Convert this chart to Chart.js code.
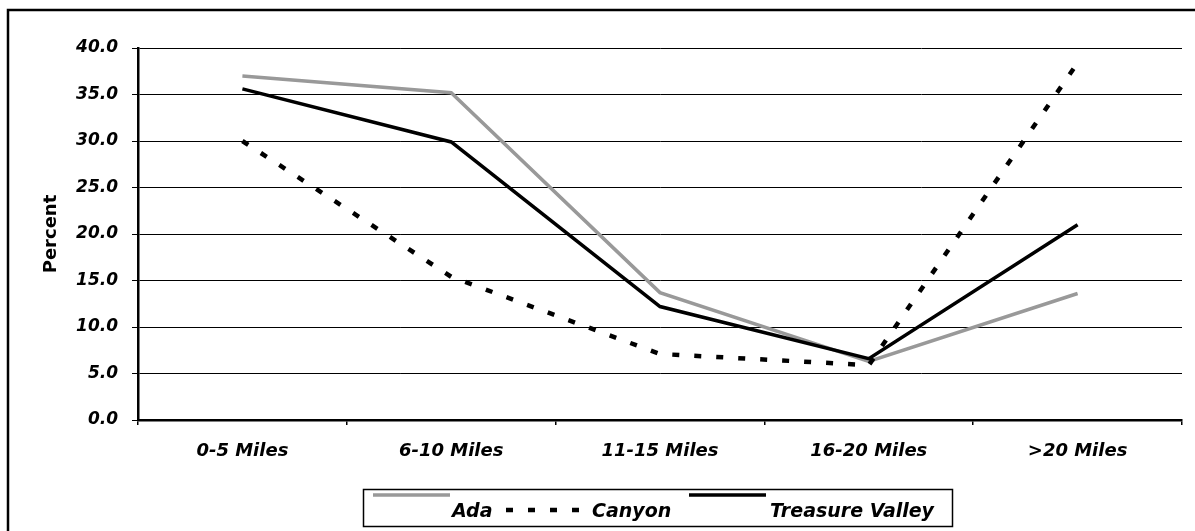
<!DOCTYPE html>
<html>
<head>
<meta charset="utf-8">
<script src="https://cdn.jsdelivr.net/npm/chart.js@4"></script>
<style>
  body { margin: 0; background: #fff; }
  canvas { display: block; }
</style>
</head>
<body>
<canvas id="commute-chart" width="1195" height="531"></canvas>
<script>
var categories = ['0-5 Miles', '6-10 Miles', '11-15 Miles', '16-20 Miles', '>20 Miles'];
var adaValues = [37.0, 35.2, 13.7, 6.3, 13.6];
var canyonValues = [30.0, 15.4, 7.1, 5.9, 38.4];
var treasureValues = [35.6, 29.9, 12.2, 6.6, 21.0];
var seriesNames = ['Ada', 'Canyon', 'Treasure Valley'];

var FONT = '"DejaVu Sans", sans-serif';

// white page plus the partial outer frame (only left and top edges show)
var framePlugin = {
  id: 'frame',
  beforeDraw: function (chart) {
    var ctx = chart.ctx;
    ctx.save();
    ctx.fillStyle = '#fff';
    ctx.fillRect(0, 0, chart.width, chart.height);
    ctx.strokeStyle = '#000';
    ctx.lineWidth = 2.5;
    ctx.beginPath();
    ctx.moveTo(8, chart.height + 2);
    ctx.lineTo(8, 10);
    ctx.lineTo(chart.width + 2, 10);
    ctx.stroke();
    ctx.restore();
  }
};

// excel-style legend box under the axis
var legendPlugin = {
  id: 'boxLegend',
  afterDraw: function (chart) {
    var ctx = chart.ctx;
    var ds = chart.data.datasets;
    var items = [
      { line: [373, 450], lineY: 495, textX: 452 },
      { line: [506, 588], lineY: 510, textX: 592 },
      { line: [689, 766], lineY: 495, textX: 770 }
    ];
    ctx.save();
    ctx.strokeStyle = '#000';
    ctx.lineWidth = 1.5;
    ctx.strokeRect(363.5, 489.5, 589, 37);
    ctx.font = 'italic bold 19px ' + FONT;
    ctx.fillStyle = '#000';
    ctx.textBaseline = 'alphabetic';
    items.forEach(function (it, i) {
      var d = ds[i];
      ctx.beginPath();
      ctx.strokeStyle = d.borderColor;
      ctx.lineWidth = d.borderWidth;
      ctx.setLineDash(d.borderDash || []);
      ctx.moveTo(it.line[0], it.lineY);
      ctx.lineTo(it.line[1], it.lineY);
      ctx.stroke();
      ctx.setLineDash([]);
      ctx.fillText(d.label, it.textX, 517);
    });
    ctx.restore();
  }
};

function makeSeries(label, data, color, width, dash, order) {
  return {
    label: label,
    data: data,
    borderColor: color,
    backgroundColor: color,
    borderWidth: width,
    borderDash: dash,
    borderCapStyle: 'butt',
    pointRadius: 0,
    tension: 0,
    fill: false,
    order: order
  };
}

new Chart(document.getElementById('commute-chart').getContext('2d'), {
  type: 'line',
  data: {
    labels: categories,
    datasets: [
      makeSeries(seriesNames[0], adaValues, '#999999', 3.5, [], 2),
      makeSeries(seriesNames[1], canyonValues, '#000000', 4.5, [7, 15], 1),
      makeSeries(seriesNames[2], treasureValues, '#000000', 3.5, [], 0)
    ]
  },
  options: {
    responsive: false,
    animation: false,
    layout: { padding: { top: 48, right: 13, left: 0, bottom: 0 } },
    plugins: {
      legend: { display: false },
      tooltip: { enabled: false }
    },
    scales: {
      x: {
        offset: true,
        afterFit: function (scale) { scale.height = 111; },
        grid: {
          offset: true,
          drawOnChartArea: false,
          drawTicks: true,
          tickLength: 5,
          color: '#000',
          lineWidth: 1.5
        },
        border: { display: true, color: '#000', width: 2.5 },
        ticks: {
          color: '#000',
          padding: 16,
          maxRotation: 0,
          font: { family: FONT, size: 18, style: 'italic', weight: 'bold' }
        }
      },
      y: {
        min: 0,
        max: 40,
        afterFit: function (scale) { scale.width = 138; },
        grid: {
          color: '#000',
          lineWidth: 1,
          drawTicks: true,
          tickLength: 6
        },
        border: { display: true, color: '#000', width: 2.5 },
        ticks: {
          stepSize: 5,
          color: '#000',
          padding: 14,
          font: { family: FONT, size: 17, style: 'italic', weight: 'bold' },
          callback: function (v) { return v.toFixed(1); }
        },
        title: {
          display: true,
          text: 'Percent',
          color: '#000',
          padding: { top: 41, bottom: 0 },
          font: { family: FONT, size: 18, weight: 'bold' }
        }
      }
    }
  },
  plugins: [framePlugin, legendPlugin]
});
</script>
</body>
</html>
